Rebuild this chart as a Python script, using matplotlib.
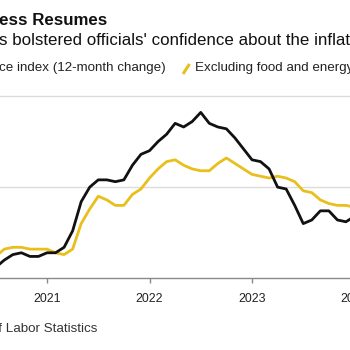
import matplotlib
matplotlib.use("Agg")
import matplotlib.pyplot as plt
from matplotlib.lines import Line2D
import numpy as np

plt.rcParams['font.family'] = ['Liberation Sans', 'DejaVu Sans']

# Monthly 12-month % change, Jun 2020 .. Jan 2024
start_year, start_month = 2020, 6
cpi = [0.6, 1.0, 1.3, 1.4, 1.2, 1.2, 1.4,
       1.4, 1.7, 2.6, 4.2, 5.0, 5.4, 5.4, 5.3, 5.4, 6.2, 6.8, 7.0,
       7.5, 7.9, 8.5, 8.3, 8.6, 9.1, 8.5, 8.3, 8.2, 7.7, 7.1, 6.5,
       6.4, 6.0, 5.0, 4.9, 4.0, 3.0, 3.2, 3.7, 3.7, 3.2, 3.1, 3.4,
       3.1]
core = [1.2, 1.6, 1.7, 1.7, 1.6, 1.6, 1.6,
        1.4, 1.3, 1.6, 3.0, 3.8, 4.5, 4.3, 4.0, 4.0, 4.6, 4.9, 5.5,
        6.0, 6.4, 6.5, 6.2, 6.0, 5.9, 5.9, 6.3, 6.6, 6.3, 6.0, 5.7,
        5.6, 5.5, 5.6, 5.5, 5.3, 4.8, 4.7, 4.3, 4.1, 4.0, 4.0, 3.9,
        3.9]
year_ticks = [2021, 2022, 2023, 2024]
year_labels = ["2021", "2022", "2023", "2024"]
grid_levels = [5, 10]

title = "Progress Resumes"
subtitle = "s bolstered officials' confidence about the inflation outlook"
legend_labels = ["Consumer price index (12-month change)", "Excluding food and energy"]
source = "Source: Bureau of Labor Statistics"

BLACK = "#111111"
YELLOW = "#E8BF1C"

W = H = 350
fig = plt.figure(figsize=(3.5, 3.5), dpi=100)
fig.patch.set_facecolor("white")

def fx(px):
    return px / W

def fy(py):
    return 1 - py / H

# x positions: each month's value plotted at month end
n = len(cpi)
x = start_year + (start_month - 1 + 1 + np.arange(n)) / 12.0

px_per_year = 102.5
x_left = 2021 - 47 / px_per_year
x_right = 2024.3
ax_w = (x_right - x_left) * px_per_year / W
ax = fig.add_axes([0, fy(278.3), ax_w, (278.3 - 96) / H])
ax.set_xlim(x_left, x_right)
ax.set_ylim(0, 10)

for g in grid_levels:
    ax.axhline(g, color="#dcdcdc", lw=1.0, zorder=1, clip_on=False)

ax.plot(x, core, color=YELLOW, lw=2.0, zorder=3, solid_joinstyle="round")
ax.plot(x, cpi, color=BLACK, lw=2.0, zorder=4, solid_joinstyle="round")

for s in ["top", "right", "left"]:
    ax.spines[s].set_visible(False)
ax.spines["bottom"].set_color("#8a8a8a")
ax.spines["bottom"].set_linewidth(1.0)
ax.set_yticks([])
ax.set_xticks(year_ticks)
ax.set_xticklabels(year_labels)
ax.tick_params(axis="x", direction="out", length=3.5, width=1.0, color="#8a8a8a",
               pad=7, labelsize=8.9, labelcolor="#222222")

# Title, subtitle
fig.text(fx(107), fy(21), title, ha="right", va="center", fontsize=12.2,
         fontweight="bold", color="#111111")
fig.text(fx(-1), fy(40.5), subtitle, ha="left", va="center", fontsize=12.2,
         color="#111111")

# Legend
fig.text(fx(166), fy(68.5), legend_labels[0], ha="right", va="center",
         fontsize=9.6, color="#222222")
fig.add_artist(Line2D([fx(183), fx(189.5)], [fy(74), fy(64)], color=YELLOW,
                      lw=2.2, transform=fig.transFigure, solid_capstyle="butt"))
fig.text(fx(195), fy(68.5), legend_labels[1], ha="left", va="center",
         fontsize=9.6, color="#222222")

# Source
fig.text(fx(97), fy(329), source, ha="right", va="center", fontsize=9.6,
         color="#333333")

fig.savefig("out.png", dpi=100, facecolor="white")
